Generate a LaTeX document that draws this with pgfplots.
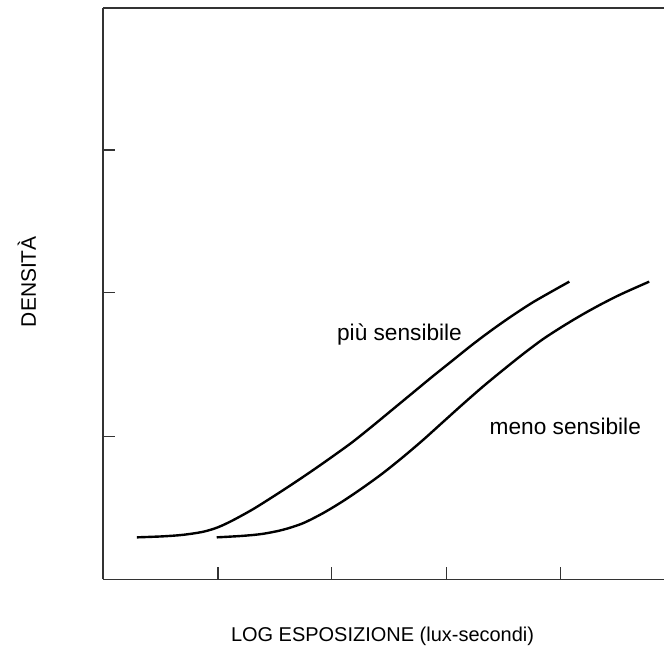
\documentclass[border=0pt]{standalone}
\usepackage{pgfplots}
\pgfplotsset{compat=1.18}
\usepackage{fontspec}
\setmainfont{Liberation Sans}
\begin{document}
\begin{tikzpicture}[x=0.5pt,y=0.5pt]
\begin{axis}[
  at={(0,0)}, anchor=origin,
  scale only axis,
  width=281pt, height=286pt,
  xmin=0, xmax=562, ymin=0, ymax=572,
  axis x line*=bottom, axis y line*=left,
  axis line style={line width=0.8pt, black!80, -},
  xtick={115,229,344,458},
  ytick={143,287,430},
  xticklabels={}, yticklabels={},
  tick align=inside,
  major tick length=6pt,
  tick style={line width=0.8pt, black!80},
  clip=false,
]
\addplot[black, line width=1.2pt, smooth, tension=0.5] coordinates {
 (34,42) (60,43) (80,44.5) (100,47.5) (115,52) (130,59) (150,70) (170,82.5)
 (190,95.5) (210,109) (230,123) (250,137.5) (270,153.5) (290,170) (310,186.5)
 (330,203) (350,219) (370,235) (390,250) (410,264) (430,277) (450,288.5) (467,298)
};
\addplot[black, line width=1.2pt, smooth, tension=0.5] coordinates {
 (114,42) (140,43.5) (160,45.5) (180,49.5) (200,56) (220,66) (240,78) (260,91.5)
 (280,106) (300,122) (320,139) (340,157) (360,175) (380,192.5) (400,209)
 (420,225) (440,240) (460,253) (480,265) (500,276) (520,286) (547,298)
};
\draw[line width=0.8pt, black!80] (axis cs:0,572) -- (axis cs:562,572);
\node[font=\fontsize{11.35}{13}\selectfont] at (axis cs:297,245) {più sensibile};
\node[font=\fontsize{11.35}{13}\selectfont] at (axis cs:463,153) {meno sensibile};
\node[font=\fontsize{10}{12}\selectfont] at (axis cs:280,-57) {LOG ESPOSIZIONE (lux-secondi)};
\node[font=\fontsize{10.5}{12}\selectfont, rotate=90] at (axis cs:-76,298) {DENSITÀ};
\end{axis}
\path (-103,-79) rectangle (562,580);
\end{tikzpicture}
\end{document}
